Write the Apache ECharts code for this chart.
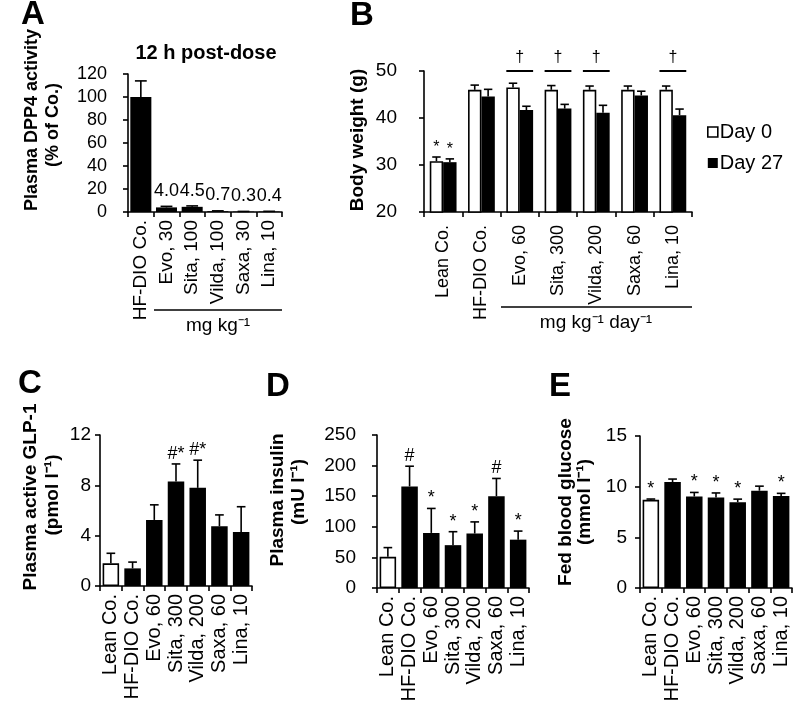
<!DOCTYPE html>
<html><head><meta charset="utf-8">
<script src="https://cdn.jsdelivr.net/npm/echarts@6/dist/echarts.min.js"></script>
<style>html,body{margin:0;padding:0;background:#fff}#c{width:800px;height:702px}</style>
</head><body><div id="c"></div>
<script>
// ---------- data ----------
const catsA = ['HF-DIO Co.', 'Evo, 30', 'Sita, 100', 'Vilda, 100', 'Saxa, 30', 'Lina, 10'];
const dppMean = [100, 4.0, 4.5, 0.7, 0.3, 0.4];
const dppErr = [14, 0.9, 0.8, 0.3, 0.2, 0.2];
const dppLabels = ['', '4.0', '4.5', '0.7', '0.3', '0.4'];
const ticksA = [0, 120, 20];

const catsB = ['Lean Co.', 'HF-DIO Co.', 'Evo, 60', 'Sita, 300', 'Vilda, 200', 'Saxa, 60', 'Lina, 10'];
const bwDay0 = [30.8, 46.0, 46.5, 46.0, 46.0, 46.0, 46.0];
const bwDay0Err = [0.9, 1.0, 0.9, 0.9, 0.8, 0.8, 0.8];
const bwDay27 = [30.6, 44.6, 41.7, 42.0, 41.1, 44.8, 40.6];
const bwDay27Err = [0.7, 1.5, 0.8, 0.9, 1.6, 0.9, 1.3];
const bwSig0 = ['*', '', '', '', '', '', ''];
const bwSig27 = ['*', '', '', '', '', '', ''];
const bwDagger = ['', '', '†', '†', '†', '', '†'];
const ticksB = [20, 50, 10];

const catsCDE = ['Lean Co.', 'HF-DIO Co.', 'Evo, 60', 'Sita, 300', 'Vilda, 200', 'Saxa, 60', 'Lina, 10'];
const glpMean = [1.8, 1.4, 5.25, 8.3, 7.8, 4.75, 4.3];
const glpErr = [0.8, 0.5, 1.2, 1.4, 2.2, 0.9, 2.0];
const glpSig = ['', '', '', '#*', '#*', '', ''];
const ticksC = [0, 12, 4];

const insMean = [51, 166, 90, 70, 89, 150, 79];
const insErr = [15, 33, 40, 22, 19, 29, 14];
const insSig = ['', '#', '*', '*', '*', '#', '*'];
const ticksD = [0, 250, 50];

const gluMean = [8.7, 10.45, 9.03, 8.93, 8.47, 9.6, 9.09];
const gluErr = [0.08, 0.3, 0.4, 0.45, 0.3, 0.45, 0.25];
const gluSig = ['*', '', '*', '*', '*', '', '*'];
const ticksE = [0, 15, 5];

// ---------- helpers ----------
const FONT = '"Liberation Sans", Arial, sans-serif';
const BLACK = '#000';
const axisLine = { show: true, lineStyle: { color: BLACK, width: 1.6 } };
const axisTick = { show: true, length: 5, lineStyle: { color: BLACK, width: 1.6 } };

function yAx(gi, t, margin, fs) {
  return {
    type: 'value', gridIndex: gi, min: t[0], max: t[1], interval: t[2],
    axisLine, axisTick, splitLine: { show: false },
    axisLabel: { color: BLACK, fontSize: fs, fontFamily: FONT, margin: margin }
  };
}
function xAx(gi, cats, fs, margin) {
  return {
    type: 'category', gridIndex: gi, data: cats,
    axisLine, axisTick,
    axisLabel: { color: BLACK, fontSize: fs, fontFamily: FONT, rotate: 90, interval: 0, margin: margin }
  };
}
function errSeries(ai, means, errs, sigs, o) {
  return {
    type: 'custom', xAxisIndex: ai, yAxisIndex: ai, z: 5, silent: true,
    data: means.map((m, i) => [i, m, m + errs[i]]),
    encode: { x: 0, y: [1, 2] },
    renderItem: function (params, api) {
      const i = api.value(0);
      const cw = api.size([1, 0])[0];
      const base = api.coord([i, api.value(1)]);
      const top = api.coord([i, api.value(2)]);
      const x = base[0] + (o.offset || 0) * cw;
      const ch = o.cap * cw;
      const st = { stroke: BLACK, lineWidth: 1.6 };
      const kids = [
        { type: 'line', shape: { x1: x, y1: base[1], x2: x, y2: top[1] }, style: st },
        { type: 'line', shape: { x1: x - ch, y1: top[1], x2: x + ch, y2: top[1] }, style: st }
      ];
      const s = sigs ? sigs[params.dataIndex] : '';
      if (s) kids.push({ type: 'text', x: x, y: top[1] - (o.sigGap || 1),
        style: { text: s, font: (o.sigSize || 18) + 'px ' + FONT, fill: BLACK, align: 'center', verticalAlign: 'bottom' } });
      return { type: 'group', children: kids };
    }
  };
}
function ctlBars(ai, means) {
  return {
    type: 'bar', xAxisIndex: ai, yAxisIndex: ai, barCategoryGap: '24%',
    data: means.map((v, i) => i === 0
      ? { value: v, itemStyle: { color: '#fff', borderColor: BLACK, borderWidth: 1.6 } }
      : { value: v, itemStyle: { color: BLACK } }),
    silent: true
  };
}
function vText(x, y, text, size) {
  return { type: 'text', x: x, y: y, rotation: Math.PI / 2,
    style: { text: text, font: 'bold ' + size + 'px ' + FONT, fill: BLACK, align: 'center', verticalAlign: 'middle' } };
}
function letter(x, y, t) {
  return { type: 'text', x: x, y: y, style: { text: t, font: 'bold 33px ' + FONT, fill: BLACK, align: 'left', verticalAlign: 'middle' } };
}

const grids = [
  { left: 128, top: 74, width: 154, height: 138 },   // A
  { left: 424, top: 71, width: 268, height: 141 },   // B
  { left: 100, top: 435, width: 152, height: 151 },  // C
  { left: 377, top: 435, width: 152, height: 153 },  // D
  { left: 640, top: 436, width: 152, height: 152 }   // E
].map(g => Object.assign({ outerBoundsMode: 'none', containLabel: false }, g));

const option = {
  backgroundColor: '#fff',
  animation: false,
  textStyle: { fontFamily: FONT, color: BLACK },
  grid: grids,
  xAxis: [xAx(0, catsA, 19, 8), xAx(1, catsB, 18, 13), xAx(2, catsCDE, 20, 8), xAx(3, catsCDE, 20, 8), xAx(4, catsCDE, 20, 8)],
  yAxis: [yAx(0, ticksA, 21, 18), yAx(1, ticksB, 27, 19), yAx(2, ticksC, 9, 19), yAx(3, ticksD, 21, 19), yAx(4, ticksE, 13, 19)],
  legend: {
    orient: 'vertical', left: 707, top: 122, itemWidth: 10, itemHeight: 10, itemGap: 11, padding: 0,
    icon: 'rect',
    textStyle: { fontSize: 20, fontFamily: FONT, color: BLACK, padding: [0, 0, 0, -3] },
    data: [
      { name: 'Day 0', itemStyle: { color: '#fff', borderColor: BLACK, borderWidth: 1.6 } },
      { name: 'Day 27', itemStyle: { color: BLACK } }
    ]
  },
  series: [
    // A
    {
      type: 'bar', xAxisIndex: 0, yAxisIndex: 0, barCategoryGap: '18%', silent: true,
      itemStyle: { color: BLACK },
      data: dppMean.map((v, i) => ({ value: v, label: { show: !!dppLabels[i], formatter: dppLabels[i] } })),
      label: { position: 'top', distance: 7, fontSize: 18, fontFamily: FONT, color: BLACK }
    },
    errSeries(0, dppMean, dppErr, null, { cap: 0.23 }),
    // B
    {
      name: 'Day 0', type: 'bar', xAxisIndex: 1, yAxisIndex: 1, barGap: '0%', barCategoryGap: '30%', silent: true,
      itemStyle: { color: '#fff', borderColor: BLACK, borderWidth: 1.6 }, data: bwDay0
    },
    {
      name: 'Day 27', type: 'bar', xAxisIndex: 1, yAxisIndex: 1, barGap: '0%', barCategoryGap: '30%', silent: true,
      itemStyle: { color: BLACK }, data: bwDay27
    },
    errSeries(1, bwDay0, bwDay0Err, bwSig0, { cap: 0.11, offset: -0.175, sigSize: 16, sigGap: 0 }),
    errSeries(1, bwDay27, bwDay27Err, bwSig27, { cap: 0.11, offset: 0.175, sigSize: 16, sigGap: 0 }),
    {
      type: 'custom', xAxisIndex: 1, yAxisIndex: 1, z: 5, silent: true,
      data: bwDagger.map((d, i) => [i, ticksB[1]]),
      encode: { x: 0, y: 1 },
      renderItem: function (params, api) {
        const d = bwDagger[params.dataIndex];
        if (!d) return null;
        const cw = api.size([1, 0])[0];
        const p = api.coord([api.value(0), api.value(1)]);
        return { type: 'group', children: [
          { type: 'line', shape: { x1: p[0] - 0.35 * cw, y1: p[1], x2: p[0] + 0.35 * cw, y2: p[1] }, style: { stroke: BLACK, lineWidth: 2 } },
          { type: 'text', x: p[0], y: p[1] - 5, style: { text: d, font: '16px ' + FONT, fill: BLACK, align: 'center', verticalAlign: 'bottom' } }
        ] };
      }
    },
    // C
    ctlBars(2, glpMean),
    errSeries(2, glpMean, glpErr, glpSig, { cap: 0.2, sigGap: 1 }),
    // D
    ctlBars(3, insMean),
    errSeries(3, insMean, insErr, insSig, { cap: 0.2, sigGap: 1 }),
    // E
    ctlBars(4, gluMean),
    errSeries(4, gluMean, gluErr, gluSig, { cap: 0.2, sigGap: 1 })
  ],
  graphic: [
    letter(21, 15, 'A'), letter(350, 16, 'B'), letter(18, 384, 'C'), letter(266, 387, 'D'), letter(549, 387, 'E'),
    { type: 'text', x: 206, y: 53, style: { text: '12 h post-dose', font: 'bold 20px ' + FONT, fill: BLACK, align: 'center', verticalAlign: 'middle' } },
    vText(32, 120, 'Plasma DPP4 activity', 18),
    vText(53, 125, '(% of Co.)', 18),
    vText(358, 140, 'Body weight (g)', 19),
    vText(31, 497, 'Plasma active GLP-1', 19),
    vText(53, 495, '(pmol l⁻¹)', 19),
    vText(278, 500, 'Plasma insulin', 19),
    vText(299, 492, '(mU l⁻¹)', 19),
    vText(566, 502, 'Fed blood glucose', 19),
    vText(585, 502, '(mmol l⁻¹)', 19),
    // dose brackets
    { type: 'line', shape: { x1: 154, y1: 310, x2: 282, y2: 310 }, style: { stroke: BLACK, lineWidth: 1.6 } },
    { type: 'text', x: 218, y: 326, style: { text: 'mg kg⁻¹', font: '19px ' + FONT, fill: BLACK, align: 'center', verticalAlign: 'middle' } },
    { type: 'line', shape: { x1: 501, y1: 307, x2: 692, y2: 307 }, style: { stroke: BLACK, lineWidth: 1.6 } },
    { type: 'text', x: 596, y: 323, style: { text: 'mg kg⁻¹ day⁻¹', font: '19px ' + FONT, fill: BLACK, align: 'center', verticalAlign: 'middle' } }
  ]
};

const chart = echarts.init(document.getElementById('c'), null, { renderer: 'canvas' });
chart.setOption(option);
</script>
</body></html>
